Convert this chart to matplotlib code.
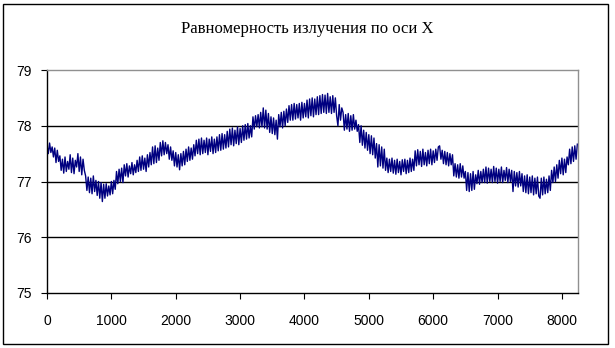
import numpy as np
import matplotlib
matplotlib.use('Agg')
from matplotlib import pyplot as plt
from matplotlib.patches import Rectangle

# readings, one every 20 units along X
step = 20
values = [
    77.65, 77.50, 77.69, 77.52, 77.62, 77.44, 77.60, 77.34, 77.56, 77.36,
    77.46, 77.20, 77.40, 77.15, 77.44, 77.18, 77.36, 77.22, 77.48, 77.16,
    77.42, 77.14, 77.38, 77.26, 77.50, 77.18, 77.44, 77.12, 77.40, 77.20,
    77.10, 76.84, 77.08, 76.80, 77.06, 76.78, 77.10, 76.82, 77.02, 76.75,
    77.00, 76.70, 76.98, 76.64, 76.95, 76.70, 76.96, 76.74, 76.92, 76.76,
    77.00, 76.78, 77.02, 76.86, 77.18, 76.96, 77.22, 77.00, 77.24, 76.98,
    77.30, 77.10, 77.32, 77.08, 77.28, 77.14, 77.34, 77.12, 77.30, 77.16,
    77.38, 77.18, 77.44, 77.20, 77.46, 77.22, 77.42, 77.18, 77.48, 77.26,
    77.52, 77.30, 77.62, 77.32, 77.64, 77.34, 77.60, 77.38, 77.70, 77.46,
    77.73, 77.48, 77.70, 77.50, 77.66, 77.40, 77.62, 77.38, 77.55, 77.28,
    77.52, 77.26, 77.48, 77.21, 77.50, 77.28, 77.54, 77.30, 77.58, 77.36,
    77.62, 77.38, 77.60, 77.40, 77.66, 77.46, 77.74, 77.50, 77.76, 77.48,
    77.78, 77.50, 77.74, 77.52, 77.78, 77.48, 77.76, 77.54, 77.80, 77.50,
    77.76, 77.52, 77.80, 77.55, 77.84, 77.56, 77.86, 77.58, 77.84, 77.60,
    77.90, 77.62, 77.94, 77.66, 77.96, 77.64, 77.92, 77.68, 77.98, 77.66,
    77.95, 77.70, 78.00, 77.74, 78.02, 77.76, 78.04, 77.78, 78.00, 77.80,
    78.16, 77.94, 78.18, 77.98, 78.20, 77.96, 78.24, 77.98, 78.32, 77.96,
    78.28, 77.94, 78.22, 77.88, 78.16, 77.86, 78.14, 77.84, 78.10, 77.76,
    78.20, 77.98, 78.24, 77.96, 78.26, 78.00, 78.30, 78.06, 78.36, 78.10,
    78.38, 78.10, 78.40, 78.12, 78.38, 78.14, 78.40, 78.10, 78.42, 78.14,
    78.40, 78.16, 78.46, 78.14, 78.48, 78.18, 78.50, 78.16, 78.48, 78.20,
    78.52, 78.20, 78.54, 78.22, 78.56, 78.24, 78.55, 78.22, 78.58, 78.24,
    78.52, 78.22, 78.54, 78.24, 78.50, 78.18, 78.00, 78.38, 78.10, 78.32,
    78.24, 77.92, 78.20, 77.94, 78.22, 77.90, 78.18, 77.92, 78.20, 77.94,
    78.10, 77.90, 78.02, 77.70, 78.00, 77.65, 77.92, 77.60, 77.88, 77.56,
    77.84, 77.50, 77.82, 77.48, 77.78, 77.42, 77.68, 77.26, 77.66, 77.28,
    77.62, 77.24, 77.58, 77.20, 77.42, 77.16, 77.40, 77.18, 77.42, 77.15,
    77.38, 77.13, 77.40, 77.16, 77.36, 77.12, 77.39, 77.18, 77.40, 77.14,
    77.38, 77.16, 77.42, 77.18, 77.40, 77.20, 77.55, 77.28, 77.57, 77.30,
    77.54, 77.27, 77.58, 77.30, 77.52, 77.28, 77.56, 77.32, 77.58, 77.30,
    77.55, 77.34, 77.58, 77.38, 77.62, 77.64, 77.40, 77.56, 77.32, 77.54,
    77.30, 77.52, 77.28, 77.50, 77.30, 77.48, 77.10, 77.32, 77.08, 77.30,
    77.06, 77.32, 77.08, 77.28, 77.06, 77.18, 76.84, 77.16, 76.82, 77.14,
    76.84, 77.18, 76.86, 77.12, 76.96, 77.20, 76.95, 77.18, 76.98, 77.22,
    76.98, 77.26, 76.97, 77.24, 77.00, 77.22, 76.98, 77.27, 77.00, 77.24,
    76.97, 77.22, 77.00, 77.26, 76.98, 77.20, 77.02, 77.25, 76.98, 77.22,
    77.00, 77.20, 76.82, 77.18, 76.92, 77.16, 76.90, 77.18, 76.92, 77.14,
    76.82, 77.10, 76.80, 77.12, 76.78, 77.08, 76.80, 77.10, 76.76, 77.06,
    76.78, 77.08, 76.74, 76.70, 77.06, 76.76, 77.08, 76.78, 77.04, 76.80,
    77.10, 76.84, 77.20, 76.98, 77.26, 77.00, 77.30, 77.06, 77.38, 77.14,
    77.42, 77.12, 77.40, 77.16, 77.44, 77.30, 77.58, 77.32, 77.62, 77.36,
    77.64, 77.40, 77.67,
]
x = np.arange(len(values)) * step

xticks = [0, 1000, 2000, 3000, 4000, 5000, 6000, 7000, 8000]
yticks = [75, 76, 77, 78, 79]
title = 'Равномерность излучения по оси X'

W, H = 615, 348
fig = plt.figure(figsize=(W / 100, H / 100), dpi=100)
fig.patches.append(Rectangle((3 / W, 4 / H), 605 / W, 340 / H, transform=fig.transFigure,
                             fill=False, edgecolor='black', linewidth=1))

ax = fig.add_axes([47 / W, 1 - 293 / H, (578 - 47) / W, (293 - 70) / H])
ax.plot(x, values, color='#000080', linewidth=1.0)

ax.set_xlim(0, 8250)
ax.set_ylim(75, 79)
ax.set_xticks(xticks)
ax.set_yticks(yticks)
for v in yticks[1:-1]:
    ax.axhline(v, color='black', linewidth=1, zorder=0)

for s in ['top', 'right']:
    ax.spines[s].set_color('#909090')
for s in ['left', 'bottom']:
    ax.spines[s].set_color('black')
for s in ax.spines.values():
    s.set_linewidth(1)

ax.tick_params(axis='x', direction='out', length=4, pad=11, labelsize=10)
ax.tick_params(axis='y', direction='out', length=4, pad=7, labelsize=10)
for lbl in ax.get_xticklabels() + ax.get_yticklabels():
    lbl.set_family('Liberation Sans')

fig.text(307 / W, 1 - 29 / H, title, ha='center', va='center',
         family='Liberation Serif', fontsize=12)

fig.savefig('out.png', dpi=100)
